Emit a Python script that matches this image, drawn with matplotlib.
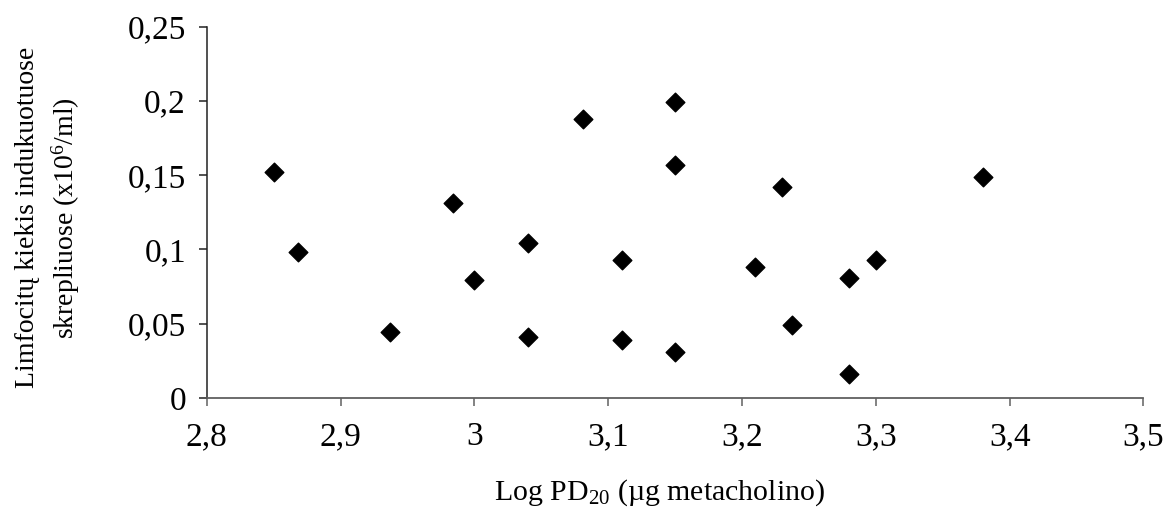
import matplotlib
matplotlib.use("Agg")
import matplotlib.pyplot as plt

# Log PD20 vs lymphocyte count
log_pd20 = [2.85, 2.868, 2.937, 2.984, 3.0, 3.04, 3.04, 3.081, 3.11, 3.11,
            3.15, 3.15, 3.15, 3.21, 3.23, 3.237, 3.28, 3.28, 3.3, 3.38]
limfocitai = [0.152, 0.098, 0.044, 0.131, 0.079, 0.104, 0.041, 0.188, 0.093, 0.039,
              0.199, 0.157, 0.031, 0.088, 0.142, 0.049, 0.081, 0.016, 0.093, 0.149]

x_ticks = [2.8, 2.9, 3.0, 3.1, 3.2, 3.3, 3.4, 3.5]
y_ticks = [0, 0.05, 0.1, 0.15, 0.2, 0.25]
x_labels = ["2,8", "2,9", "3", "3,1", "3,2", "3,3", "3,4", "3,5"]
y_labels = ["0", "0,05", "0,1", "0,15", "0,2", "0,25"]

plt.rcParams['font.family'] = ['Liberation Serif', 'DejaVu Serif']
plt.rcParams['mathtext.fontset'] = 'custom'
plt.rcParams['mathtext.rm'] = 'Liberation Serif'
plt.rcParams['mathtext.it'] = 'Liberation Serif:italic'

fig = plt.figure(figsize=(11.68, 5.22), dpi=100)
ax = fig.add_axes([0.177, 0.238, 0.802, 0.711])

ax.scatter(log_pd20, limfocitai, marker='D', s=90, color='black', zorder=3)

ax.set_xlim(2.8, 3.5)
ax.set_ylim(0, 0.25)
ax.set_xticks(x_ticks)
ax.set_xticklabels(x_labels)
ax.set_yticks(y_ticks)
ax.set_yticklabels(y_labels)

for s in ['top', 'right']:
    ax.spines[s].set_visible(False)
ax.spines['left'].set_color('#222222')
ax.spines['bottom'].set_color('#606060')
ax.spines['left'].set_linewidth(1.1)
ax.spines['bottom'].set_linewidth(1.3)
ax.tick_params(axis='both', direction='out', length=6, width=1.1, labelsize=24)
ax.tick_params(axis='x', pad=11, color='#606060')
ax.tick_params(axis='y', pad=9, color='#222222')

ax.set_xlabel("Log PD$_{20}$ (µg metacholino)", fontsize=21.5)
ax.xaxis.set_label_coords(0.483, -0.215)
ax.set_ylabel("Limfocitų kiekis indukuotuose\nskrepliuose (x10$^6$/ml)",
              fontsize=20, linespacing=1.4)
ax.yaxis.set_label_coords(-0.133, 0.485)

fig.savefig("out.png", dpi=100)
